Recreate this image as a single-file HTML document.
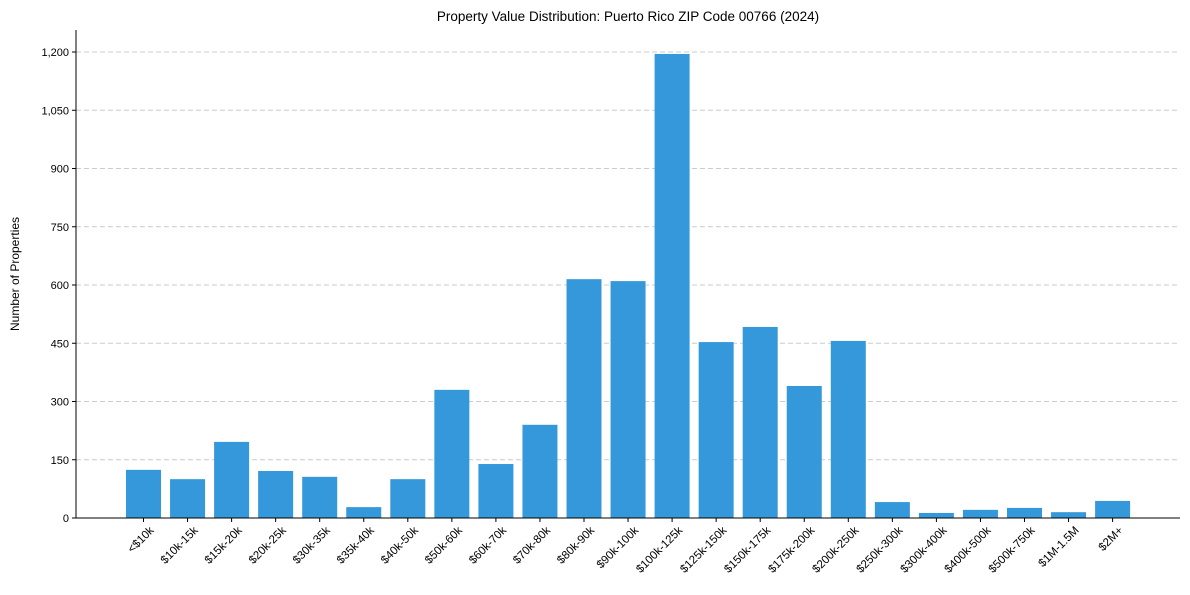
<!DOCTYPE html>
<html><head><meta charset="utf-8"><style>
body{margin:0;background:#fff;}
svg text{font-family:"Liberation Sans",Arial,sans-serif;fill:#000;}
</style></head><body>
<svg id="chart" width="1190" height="590" xmlns="http://www.w3.org/2000/svg">
<rect width="1190" height="590" fill="#fff"/>
<text x="628" y="21" text-anchor="middle" font-size="13.5">Property Value Distribution: Puerto Rico ZIP Code 00766 (2024)</text>
<text transform="translate(19,274) rotate(-90)" text-anchor="middle" font-size="12">Number of Properties</text>
<g id="grid"></g><g id="bars"></g><g id="axes"></g>
</svg>
<script>
const categories=["<$10k","$10k-15k","$15k-20k","$20k-25k","$30k-35k","$35k-40k","$40k-50k","$50k-60k","$60k-70k","$70k-80k","$80k-90k","$90k-100k","$100k-125k","$125k-150k","$150k-175k","$175k-200k","$200k-250k","$250k-300k","$300k-400k","$400k-500k","$500k-750k","$1M-1.5M","$2M+"];
const counts=[124,100,196,121,106,28,100,330,139,240,615,610,1195,453,492,340,456,41,13,21,26,15,44];
const yTicks=[0,150,300,450,600,750,900,1050,1200];
const NS="http://www.w3.org/2000/svg";
const x0=76,x1=1180,y0=518,yTop=52;
const step=44.05,first=143.5,bw=35;
function xPos(i){return first+i*step;}
function yPos(v){return y0-(v/1200)*(y0-yTop);}
function mk(t,a,p){const e=document.createElementNS(NS,t);for(const k in a)e.setAttribute(k,a[k]);p.appendChild(e);return e;}
const grid=document.getElementById('grid'),bars=document.getElementById('bars'),axes=document.getElementById('axes');
yTicks.forEach(v=>{
  const y=yPos(v);
  if(v>0){const g=mk('line',{x1:x0,x2:x1,y1:y,y2:y,stroke:'#ccc','stroke-dasharray':'5,3','stroke-width':1},grid);
  
  }
  mk('line',{x1:x0-4,x2:x0,y1:y,y2:y,stroke:'#000'},axes);
  const t=mk('text',{x:x0-7,y:y+4,'text-anchor':'end','font-size':'11'},axes);
  t.textContent=v.toLocaleString('en-US');
  
  
});
categories.forEach((c,i)=>{
  const x=xPos(i),y=yPos(counts[i]);
  const r=mk('rect',{x:x-bw/2,y:y,width:bw,height:y0-y,fill:'#3498db'},bars);
  
  
  mk('line',{x1:x,x2:x,y1:y0,y2:y0+4,stroke:'#000'},axes);
  const ax=x+11,ay=y0+13;
  const t=mk('text',{x:ax,y:ay,'text-anchor':'end','font-size':'11.5',transform:`rotate(-45 ${ax} ${ay})`},axes);
  t.textContent=c;
  
  
});
const ya=mk('line',{x1:x0,x2:x0,y1:30,y2:y0,stroke:'#000'},axes);


const xa=mk('line',{x1:x0,x2:x1,y1:y0,y2:y0,stroke:'#000'},axes);


</script>
</body></html>
